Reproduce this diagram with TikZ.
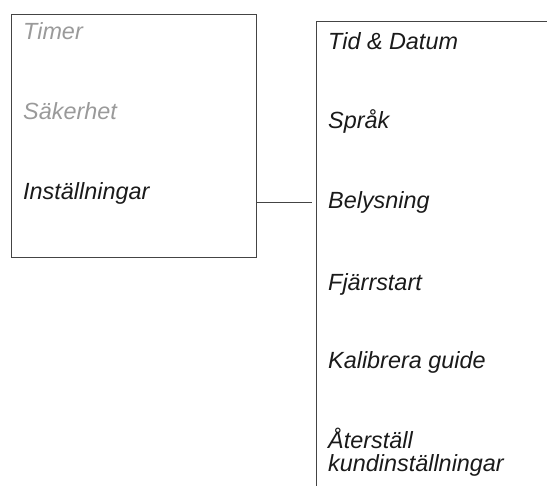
\documentclass[tikz,border=0pt]{standalone}
\usepackage{fontspec}
\setmainfont{Liberation Sans}
\definecolor{linec}{HTML}{444444}
\definecolor{dimtext}{HTML}{9A9A9A}
\definecolor{maintext}{HTML}{1A1A1A}
\tikzset{
  menubox/.style={draw=linec, line width=1.1bp, inner sep=0pt, anchor=north west},
  item/.style={anchor=base west, inner sep=0pt, font=\fontsize{23.4bp}{26bp}\selectfont\itshape, text=maintext},
  dimitem/.style={item, text=dimtext},
  conn/.style={draw=linec, line width=1bp},
}
\begin{document}
\begin{tikzpicture}[x=1bp,y=-1bp]
\useasboundingbox (0,0) rectangle (547,486);
\clip (0,0) rectangle (547,486);
\node[menubox, minimum width=245bp, minimum height=243bp] (left) at (11,14) {};
\node[menubox, minimum width=300bp, minimum height=500bp] (right) at (316,21) {};
\node[dimitem] (timer) at (23,40) {Timer};
\node[dimitem] (sak) at (23,120) {Säkerhet};
\node[item] (inst) at (23,200) {Inställningar};
\node[item] (tid) at (328,50) {Tid \& Datum};
\node[item] (sprak) at (328,129) {Språk};
\node[item] (bel) at (328,209) {Belysning};
\node[item] (fj) at (328,290) {Fjärrstart};
\node[item] (kal) at (328,368) {Kalibrera guide};
\node[item] (ater) at (328,448) {Återställ};
\node[item] (kund) at (328,471) {kundinställningar};
\coordinate (c1) at (left.east |- 0,203);
\coordinate (c2) at (312,203);
\draw[conn] (c1) -- (c2);
\end{tikzpicture}
\end{document}
